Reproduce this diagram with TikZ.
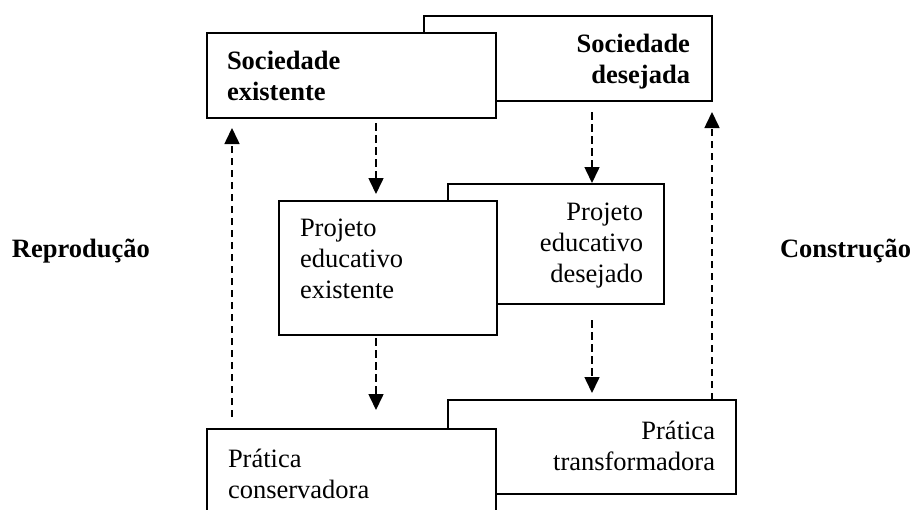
\documentclass[tikz,border=0pt]{standalone}
\usepackage{fontspec}
\setmainfont{Liberation Serif}
\usetikzlibrary{arrows.meta}
\tikzset{
  box/.style={draw, line width=1.6pt, fill=white, inner sep=0pt, outer sep=0pt, anchor=north west},
  txt/.style={inner sep=0pt, outer sep=0pt, font=\fontsize{26.5}{31}\selectfont},
  btxt/.style={inner sep=0pt, outer sep=0pt, font=\fontsize{26.5}{31}\selectfont\bfseries},
  flow/.style={line width=1.6pt, dash pattern=on 7.5pt off 4.5pt, -{Triangle[length=16pt,width=15pt]}},
}
\begin{document}
\begin{tikzpicture}[x=1pt,y=-1pt]
\path[use as bounding box, clip] (0,0) rectangle (912,509);
\fill[white] (0,0) rectangle (912,509);

% back boxes (desired)
\node[box, minimum width=288pt, minimum height=85pt] (sd) at (424,16) {};
\node[box, minimum width=216pt, minimum height=120pt] (pd) at (448,184) {};
\node[box, minimum width=288pt, minimum height=94pt] (pt) at (448,400) {};
% front boxes (existing)
\node[box, minimum width=289pt, minimum height=85pt] (se) at (207,33) {};
\node[box, minimum width=218pt, minimum height=134pt] (pe) at (279,201) {};
\node[box, minimum width=289pt, minimum height=130pt] (pc) at (207,429) {};

% texts (anchored at the baseline of the last line)
\node[btxt, align=right, anchor=base east] (sdt) at (690,83) {Sociedade\\desejada};
\node[btxt, align=left, anchor=base west] (set) at (227,100) {Sociedade\\existente};
\node[txt, align=right, anchor=base east] (pdt) at (643,282) {Projeto\\educativo\\desejado};
\node[txt, align=left, anchor=base west] (pet) at (300,298) {Projeto\\educativo\\existente};
\node[txt, align=right, anchor=base east] (ptt) at (715,470) {Prática\\transformadora};
\node[txt, align=left, anchor=base west] (pct) at (228,498) {Prática\\conservadora};

\node[btxt, anchor=base west] (rep) at (12,257) {Reprodução};
\node[btxt, anchor=base west] (con) at (780,257) {Construção};

% connector columns
\coordinate (cl) at (232,0);
\coordinate (cm) at (376,0);
\coordinate (cn) at (592,0);
\coordinate (cr) at (712,0);

\draw[flow, shorten <=5pt, shorten >=7pt] (se.south -| cm) -- (pe.north -| cm);
\draw[flow, shorten <=11pt, shorten >=1pt] (sd.south -| cn) -- (pd.north -| cn);
\draw[flow, shorten <=3pt, shorten >=19pt] (pe.south -| cm) -- (pc.north -| cm);
\draw[flow, shorten <=16pt, shorten >=7pt] (pd.south -| cn) -- (pt.north -| cn);
\draw[flow, shorten <=12pt, shorten >=10pt] (pc.north -| cl) -- (se.south -| cl);
\draw[flow, shorten >=11pt] (pt.north -| cr) -- (sd.south -| cr);
\end{tikzpicture}
\end{document}
